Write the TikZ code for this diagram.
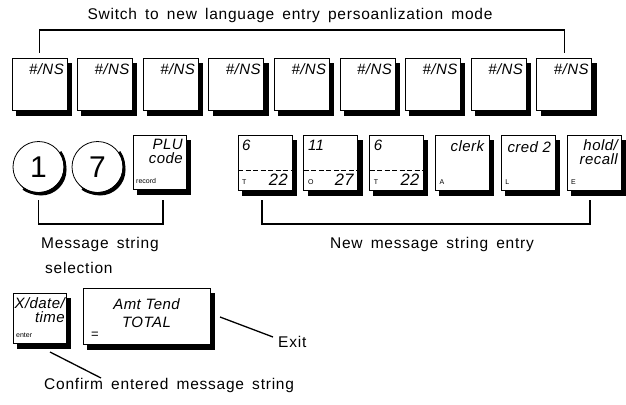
\documentclass[tikz,border=0pt]{standalone}
\usepackage{fontspec}
\setmainfont{Liberation Sans}
\newfontfamily\lsp[LetterSpace=5,WordSpace=1.6]{Liberation Sans}
\newfontfamily\ksp[LetterSpace=3]{Liberation Sans}
% key with a solid offset shadow: name, x, y, width, height
\newcommand\shkey[5]{%
  \node[keyb, minimum width=#4pt, minimum height=#5pt] (#1) at ({#2},{#3}) {};
  \node[strip, minimum width=4pt, minimum height={(#5-5)*1pt}, anchor=north west] (#1r) at ([yshift=-5pt]#1.north east) {};
  \node[strip, minimum width=#4pt, minimum height=5pt, anchor=north west] (#1b) at ([xshift=4pt]#1.south west) {};
  \draw[shline, line width=4pt] ({#2+#4/2+2},{#3-#5/2+5}) -- ({#2+#4/2+2},{#3+#5/2+5});
  \draw[shline, line width=5pt] ({#2-#4/2+4},{#3+#5/2+2.5}) -- ({#2+#4/2+4},{#3+#5/2+2.5});}
\newcommand\shnum[4]{% name, x, y, digit
  \fill[black] ({#2+2.5},{#3+3}) circle[radius=25.5];
  \node[numkey] (#1) at ({#2},{#3}) {#4};
  \draw[shline, line width=2.6pt] ({#2+26.5*cos(-35)},{#3+26.5*sin(-35)}) arc[start angle=-35, end angle=125, radius=26.5];}
\begin{document}
\begin{tikzpicture}[x=1pt,y=-1pt,
 shline/.style={draw=black, line cap=butt},
 strip/.style={fill=black, draw=black, line width=0.5pt, inner sep=0pt, outer sep=0pt},
 keyb/.style={draw, line width=0.8pt, fill=white, inner sep=0pt, outer sep=0pt},
 numkey/.style={keyb, circle, minimum size=51pt, font=\fontsize{30}{30}\selectfont},
 lab/.style={font=\fontsize{15.5}{18}\lsp, inner sep=0pt},
 kt/.style={font=\fontsize{15}{15}\ksp\itshape, inner sep=0pt},
 big/.style={font=\fontsize{16.5}{17}\ksp\itshape, inner sep=0pt},
 tiny/.style={font=\fontsize{7}{8}\selectfont, inner sep=0pt},
 br/.style={line width=1.3pt},
 dsh/.style={line width=0.8pt, dash pattern=on 5pt off 2.5pt}]
\useasboundingbox (0,0) rectangle (626,404);

% title and top bracket
\node[lab] (title) at (290,15) {Switch to new language entry persoanlization mode};
\foreach \i in {1,...,9}{
  \shkey{t\i}{39.5+65.6*(\i-1)}{84}{55}{52}
  \node[kt, anchor=north east] (tl\i) at ([xshift=-3pt,yshift=-5pt]t\i.north east) {\#/NS};
}
\draw[br] ([yshift=5pt]t1.north) -- ++(0,-23) -| ([yshift=5pt]t9.north);

% row 2 left
\shnum{c1}{38.5}{167}{1}
\shnum{c7}{97.5}{167}{7}
\shkey{plu}{159.5}{162}{53}{54}
\node[kt, anchor=north east, align=right] (plut) at ([xshift=-3pt,yshift=-4pt]plu.north east) {PLU\\[-1pt]code};
\node[tiny, anchor=south west] (plur) at ([xshift=3pt,yshift=5pt]plu.south west) {record};

% row 2 right
\foreach \i in {1,...,6}{
  \shkey{r\i}{265+65.8*(\i-1)}{162.5}{54}{55}
}
\foreach \i/\a/\b/\c in {1/6/T/22, 2/11/O/27, 3/6/T/22}{
  \node[kt, anchor=north west] (ra\i) at ([xshift=4pt,yshift=-5pt]r\i.north west) {\a};
  \draw[dsh] ([yshift=-35pt]r\i.north west) -- ([yshift=-35pt]r\i.north east);
  \node[tiny, anchor=south west] (rb\i) at ([xshift=4pt,yshift=5pt]r\i.south west) {\b};
  \node[big, anchor=south east] (rc\i) at ([xshift=-4pt,yshift=4pt]r\i.south east) {\c};
}
\node[kt, anchor=north east] (r4t) at ([xshift=-5pt,yshift=-5pt]r4.north east) {clerk};
\node[tiny, anchor=south west] (r4b) at ([xshift=4pt,yshift=5pt]r4.south west) {A};
\node[kt, anchor=north east] (r5t) at ([xshift=-4pt,yshift=-6pt]r5.north east) {cred 2};
\node[tiny, anchor=south west] (r5b) at ([xshift=4pt,yshift=5pt]r5.south west) {L};
\node[kt, anchor=north east, align=right] (r6t) at ([xshift=-3pt,yshift=-4pt]r6.north east) {hold/\\[-1pt]recall};
\node[tiny, anchor=south west] (r6b) at ([xshift=4pt,yshift=5pt]r6.south west) {E};

% brackets row 2
\coordinate (b1) at (38.5,200);
\coordinate (b2) at (163,200);
\draw[br] (b1) -- (38.5,224) -| (b2);
\coordinate (b3) at (262,200);
\coordinate (b4) at (590,200);
\draw[br] (b3) -- (262,224) -| (b4);
\node[lab, anchor=west] (ms) at (41,244) {Message string};
\node[lab, anchor=west] (sel) at (45,268) {selection};
\node[lab] (nm) at (432,244) {New message string entry};

% bottom row
\shkey{xk}{39.5}{318}{53}{50}
\node[kt, anchor=north east, align=right] (xkt) at ([xshift=-1pt,yshift=-4pt]xk.north east) {X/date/\\[-1pt]time};
\node[tiny, anchor=south west] (xkb) at ([xshift=3pt,yshift=5pt]xk.south west) {enter};
\shkey{tk}{146.5}{316}{127}{56}
\node[font=\fontsize{15}{18}\ksp\itshape, align=center, inner sep=0pt] (tkt) at ([yshift=3pt]tk.center) {Amt Tend\\TOTAL};
\node[font=\fontsize{13}{13}\selectfont, anchor=south west, inner sep=0pt] (tkb) at ([xshift=8pt,yshift=5pt]tk.south west) {=};

\node[lab, anchor=west] (exit) at (278,342) {Exit};
\coordinate (e1) at (220,317);
\coordinate (e2) at (273,337);
\draw[br] (e1) -- (e2);
\node[lab, anchor=west] (conf) at (44,385) {Confirm entered message string};
\coordinate (f1) at (50,352);
\coordinate (f2) at (101,378);
\draw[br] (f1) -- (f2);
\end{tikzpicture}
\end{document}
